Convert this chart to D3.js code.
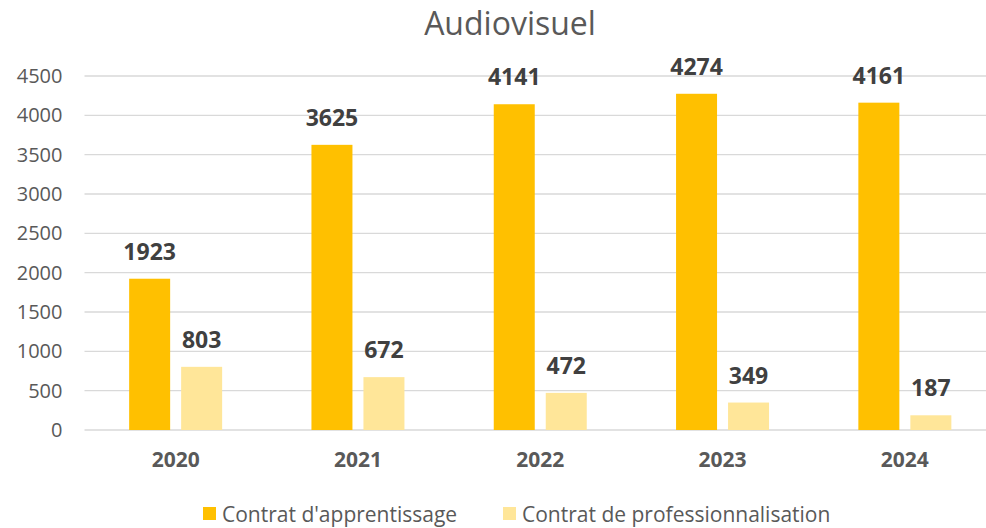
<!DOCTYPE html>
<html>
<head>
<meta charset="utf-8">
<script src="https://cdn.jsdelivr.net/npm/d3@7"></script>
<style>
  body { margin: 0; background: #fff; }
  svg { display: block; font-family: 'Open Sans', sans-serif; }
</style>
</head>
<body>
<svg id="chart" width="986" height="528"></svg>
<script>
// data
const years = ['2020', '2021', '2022', '2023', '2024'];
const apprentissage = [1923, 3625, 4141, 4274, 4161];
const professionnalisation = [803, 672, 472, 349, 187];
const yTicks = [0, 500, 1000, 1500, 2000, 2500, 3000, 3500, 4000, 4500];
const seriesNames = ["Contrat d'apprentissage", 'Contrat de professionnalisation'];
const seriesColors = ['#FFC000', '#FFE699'];

const svg = d3.select('#chart');

// plot area (the right edge runs past the window, like the original)
// note: can't call these top/left, window.top already exists
const plotLeft = 84.5, plotRight = 996, plotTop = 76, plotBottom = 430;

const x = d3.scaleBand()
  .domain(years)
  .range([plotLeft, plotRight])
  .paddingInner(0)
  .paddingOuter(0);

const y = d3.scaleLinear()
  .domain([0, 4500])
  .range([plotBottom, plotTop]);

const barW = 41, gap = 11;
const groupW = barW * 2 + gap;

// title
svg.append('text')
  .attr('x', 510)
  .attr('y', 35)
  .attr('text-anchor', 'middle')
  .attr('font-size', '32px')
  .attr('fill', '#595959')
  .text('Audiovisuel');

// gridlines
svg.append('g')
  .selectAll('line')
  .data(yTicks)
  .enter().append('line')
  .attr('x1', plotLeft)
  .attr('x2', plotRight)
  .attr('y1', d => y(d))
  .attr('y2', d => y(d))
  .attr('stroke', '#d9d9d9')
  .attr('stroke-width', 1.3);

// y axis labels
const yAxis = svg.append('g')
  .attr('transform', `translate(${plotLeft - 22},0)`)
  .call(d3.axisLeft(y).tickValues(yTicks).tickFormat(d3.format('d')).tickSize(0).tickPadding(0));
yAxis.select('.domain').remove();
yAxis.selectAll('text')
  .attr('font-size', '20px')
  .attr('font-family', "'Open Sans', sans-serif")
  .attr('fill', '#595959');

// x axis labels
const xAxis = svg.append('g')
  .attr('transform', `translate(0,${plotBottom})`)
  .call(d3.axisBottom(x).tickSize(0).tickPadding(22));
xAxis.select('.domain').remove();
xAxis.selectAll('text')
  .attr('font-size', '21px')
  .attr('font-weight', 'bold')
  .attr('font-family', "'Open Sans', sans-serif")
  .attr('fill', '#595959');

const series = [apprentissage, professionnalisation];

series.forEach((vals, s) => {
  const bx = d => x(d) + (x.bandwidth() - groupW) / 2 + s * (barW + gap);

  svg.append('g')
    .selectAll('rect')
    .data(years)
    .enter().append('rect')
    .attr('x', d => bx(d))
    .attr('y', (d, i) => y(vals[i]))
    .attr('width', barW)
    .attr('height', (d, i) => plotBottom - y(vals[i]))
    .attr('fill', seriesColors[s]);

  // value labels
  svg.append('g')
    .selectAll('text')
    .data(years)
    .enter().append('text')
    .attr('x', d => bx(d) + barW / 2)
    .attr('y', (d, i) => y(vals[i]) - 19)
    .attr('text-anchor', 'middle')
    .attr('font-size', '23px')
    .attr('font-weight', 'bold')
    .attr('fill', '#404040')
    .text((d, i) => vals[i]);
});

// legend
const legendX = [203, 503];
const legend = svg.append('g');
seriesNames.forEach((name, i) => {
  legend.append('rect')
    .attr('x', legendX[i])
    .attr('y', 507)
    .attr('width', 13)
    .attr('height', 13)
    .attr('fill', seriesColors[i]);
  legend.append('text')
    .attr('x', legendX[i] + 19)
    .attr('y', 522)
    .attr('font-size', '21px')
    .attr('fill', '#595959')
    .text(name);
});
</script>
</body>
</html>
